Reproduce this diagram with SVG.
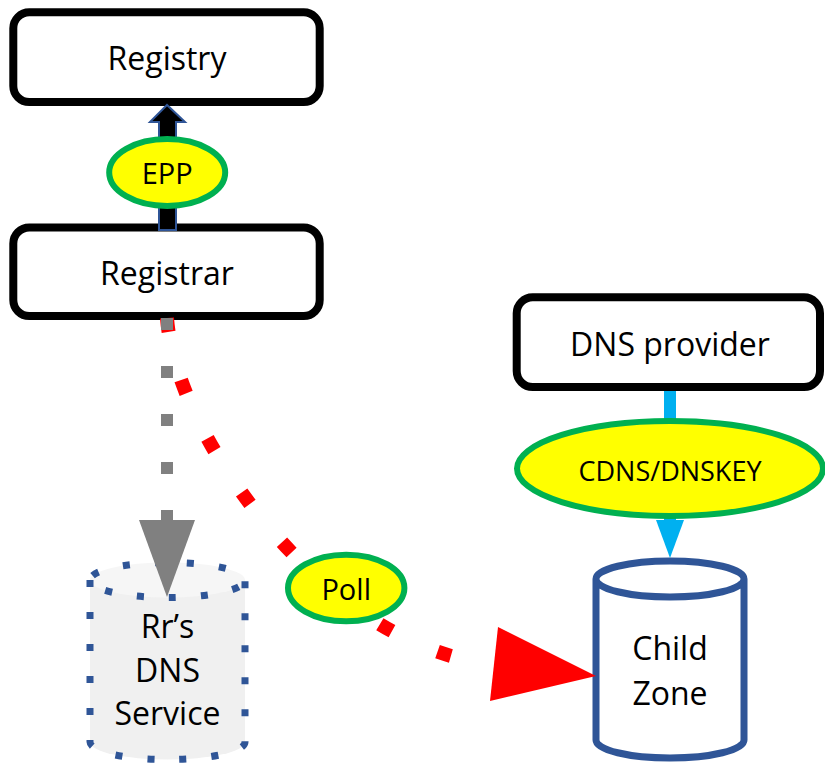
<svg xmlns="http://www.w3.org/2000/svg" width="825" height="763" viewBox="0 0 825 763">
<style>
.box{fill:#ffffff;stroke:#000000;stroke-width:8}
.lbl{fill:#ffff00;stroke:#00b050;stroke-width:6}
.t{font-family:"Open Sans","Noto Sans","Liberation Sans",sans-serif;fill:#000000;text-anchor:middle}
.big{font-size:32px}
.sm{font-size:29px}
</style>
<rect width="825" height="763" fill="#ffffff"/>
<g id="registry">
  <rect class="box" x="13.3" y="12.3" width="306.4" height="89.7" rx="16"/>
  <text class="t big" x="167" y="70">Registry</text>
</g>
<g id="registrar">
  <rect class="box" x="13.3" y="227.5" width="306.4" height="88.5" rx="16"/>
  <text class="t big" x="167" y="285">Registrar</text>
</g>
<g id="dns-provider">
  <rect class="box" x="516.7" y="297.3" width="303.3" height="89.7" rx="16"/>
  <text class="t big" x="670" y="356">DNS provider</text>
</g>
<g id="rr-dns-service">
  <path d="M90,580 L90,742 A77.5,17.5 0 0 0 245,742 L245,580 Z" fill="#f0f0f0"/>
  <ellipse cx="167.5" cy="580" rx="77.5" ry="17.5" fill="#f6f6f6"/>
  <path d="M90,580 L90,742 A77.5,17.5 0 0 0 245,742 L245,580 A77.5,17.5 0 0 0 90,580 A77.5,17.5 0 0 0 245,580" fill="none" stroke="#2f5597" stroke-width="7" stroke-dasharray="7 25"/>
  <text class="t big" x="167.5" y="638">Rr’s</text>
  <text class="t big" x="167.5" y="681.5">DNS</text>
  <text class="t big" x="167.5" y="725">Service</text>
</g>
<g id="child-zone">
  <path d="M596,579 L596,740 A74,18 0 0 0 744,740 L744,579 A74,18 0 0 0 596,579 A74,18 0 0 0 744,579" fill="#ffffff" stroke="#2f5597" stroke-width="7" stroke-linejoin="round"/>
  <text class="t big" x="670" y="660">Child</text>
  <text class="t big" x="670" y="705">Zone</text>
</g>
<g id="connectors">
  <path id="poll-link" d="M167,318 C176,440 330,650 494,664" fill="none" stroke="#ff0000" stroke-width="14" stroke-dasharray="14 50"/>
  <polygon points="498,627 490,701 596,676" fill="#ff0000"/>
  <line x1="167" y1="318" x2="167" y2="522" stroke="#808080" stroke-width="12" stroke-dasharray="12 36"/>
  <polygon points="139,520 195,520 167,597" fill="#808080"/>
  <polygon points="159,230 159,122 150,122 167,105 185,122 176,122 176,230" fill="#000000" stroke="#2f5597" stroke-width="2"/>
  <line x1="670" y1="391" x2="670" y2="522" stroke="#00b0f0" stroke-width="12"/>
  <polygon points="656,520 684,520 670,558" fill="#00b0f0"/>
</g>
<g id="epp">
  <ellipse class="lbl" cx="167.2" cy="172.5" rx="58" ry="33.5"/>
  <text class="t sm" x="167.2" y="184">EPP</text>
</g>
<g id="cdns">
  <ellipse class="lbl" cx="670" cy="468.5" rx="153" ry="47.5"/>
  <text class="t" style="font-size:27px" x="670" y="481">CDNS/DNSKEY</text>
</g>
<g id="poll">
  <ellipse class="lbl" cx="346.2" cy="588" rx="58.2" ry="33.3"/>
  <text class="t sm" x="346.2" y="600">Poll</text>
</g>
</svg>
